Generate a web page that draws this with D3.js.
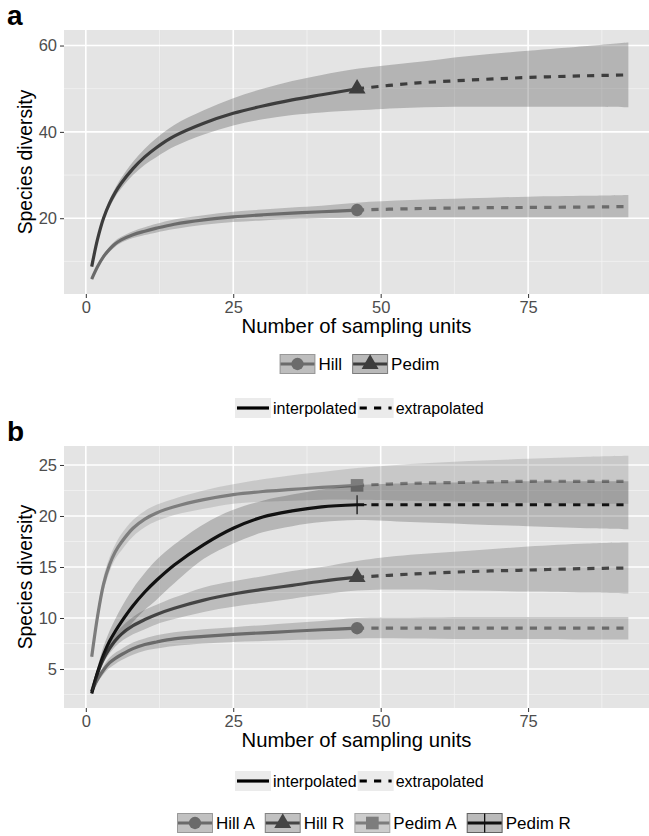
<!DOCTYPE html>
<html>
<head>
<meta charset="utf-8">
<script src="https://cdn.jsdelivr.net/npm/d3@7"></script>
<style>
  body { margin: 0; background: #fff; }
  text { font-family: "Liberation Sans", Arial, sans-serif; }
</style>
</head>
<body>
<div id="chart"></div>
<script>
(function(d3) {
  'use strict';

  // sampling units where the curves were evaluated (46 = observed sample)
  var units = [1, 2, 3, 4, 5, 6, 8, 10, 12, 15, 20, 25, 30, 35, 40, 46, 55, 65, 75, 85, 92];
  var observedUnits = 46;
  var xTicks = [0, 25, 50, 75];

  // panel a
  var yTicksA = [20, 40, 60];
  var hillEst = [5.9, 8.8, 11.1, 12.8, 14.1, 15.0, 16.2, 17.0, 17.7, 18.6, 19.6, 20.3, 20.8, 21.2, 21.5, 21.9, 22.2, 22.4, 22.5, 22.6, 22.7];
  var hillLo  = [5.6, 8.4, 10.6, 12.2, 13.4, 14.3, 15.4, 16.1, 16.7, 17.5, 18.5, 19.1, 19.5, 19.8, 20.0, 20.1, 20.2, 20.2, 20.2, 20.2, 20.2];
  var hillHi  = [6.2, 9.2, 11.6, 13.4, 14.8, 15.7, 17.0, 17.9, 18.7, 19.7, 20.7, 21.5, 22.0, 22.5, 22.9, 23.6, 24.2, 24.6, 25.0, 25.2, 25.4];
  var pedimEst = [8.8, 15.2, 20.0, 23.4, 26.0, 28.1, 31.5, 34.2, 36.4, 39.0, 42.0, 44.3, 46.0, 47.4, 48.6, 50.0, 51.2, 52.0, 52.6, 53.0, 53.2];
  var pedimLo  = [8.5, 14.7, 19.3, 22.5, 25.0, 26.9, 30.0, 32.4, 34.2, 36.6, 39.4, 41.5, 42.9, 43.9, 44.5, 45.0, 45.6, 45.8, 45.8, 45.8, 45.7];
  var pedimHi  = [9.1, 15.7, 20.7, 24.3, 27.0, 29.3, 33.1, 36.1, 38.6, 41.6, 45.0, 47.8, 50.0, 51.8, 53.2, 54.6, 56.0, 57.6, 58.8, 59.9, 60.7];

  // panel b
  var yTicksB = [5, 10, 15, 20, 25];
  var hillAEst = [2.8, 4.0, 4.9, 5.6, 6.05, 6.4, 7.0, 7.4, 7.65, 7.95, 8.2, 8.4, 8.55, 8.7, 8.85, 9.0, 9.0, 9.0, 9.0, 9.0, 9.0];
  var hillALo  = [2.6, 3.7, 4.5, 5.1, 5.5, 5.85, 6.4, 6.8, 7.0, 7.25, 7.5, 7.65, 7.75, 7.85, 7.9, 8.0, 8.0, 7.95, 7.95, 7.9, 7.9];
  var hillAHi  = [3.0, 4.3, 5.3, 6.1, 6.6, 6.95, 7.6, 8.0, 8.3, 8.6, 8.9, 9.1, 9.3, 9.5, 9.7, 10.0, 10.05, 10.1, 10.1, 10.1, 10.1];
  var hillREst = [2.8, 4.6, 6.0, 7.0, 7.8, 8.4, 9.25, 9.85, 10.35, 10.95, 11.75, 12.35, 12.8, 13.2, 13.6, 14.0, 14.3, 14.55, 14.7, 14.85, 14.9];
  var hillRLo  = [2.6, 4.3, 5.6, 6.5, 7.2, 7.7, 8.4, 8.9, 9.4, 9.9, 10.6, 11.1, 11.5, 11.9, 12.3, 12.7, 12.8, 12.7, 12.6, 12.5, 12.4];
  var hillRHi  = [3.0, 4.9, 6.4, 7.5, 8.4, 9.1, 10.1, 10.8, 11.3, 12.0, 13.0, 13.6, 14.1, 14.6, 15.0, 15.6, 16.2, 16.6, 17.0, 17.3, 17.4];
  var pedimAEst = [6.2, 10.2, 13.3, 15.2, 16.5, 17.4, 18.8, 19.7, 20.3, 20.9, 21.6, 22.1, 22.4, 22.6, 22.8, 23.0, 23.2, 23.3, 23.4, 23.4, 23.4];
  var pedimALo  = [5.9, 9.6, 12.6, 14.5, 15.8, 16.6, 18.0, 18.9, 19.5, 20.1, 20.7, 21.2, 21.4, 21.5, 21.6, 21.6, 21.5, 21.4, 21.3, 21.2, 21.2];
  var pedimAHi  = [6.5, 10.8, 14.0, 15.9, 17.2, 18.2, 19.6, 20.5, 21.1, 21.7, 22.5, 23.1, 23.6, 24.0, 24.3, 24.7, 25.1, 25.4, 25.6, 25.8, 25.9];
  var pedimREst = [2.6, 4.7, 6.4, 7.7, 8.7, 9.6, 11.2, 12.55, 13.7, 15.2, 17.2, 18.8, 19.9, 20.5, 20.9, 21.1, 21.1, 21.1, 21.1, 21.1, 21.1];
  var pedimRLo  = [2.4, 4.2, 5.7, 6.7, 7.5, 8.2, 9.6, 10.8, 11.8, 13.4, 15.8, 17.3, 18.4, 19.0, 19.4, 19.6, 19.4, 19.2, 19.0, 18.8, 18.7];
  var pedimRHi  = [2.8, 5.2, 7.2, 8.7, 9.9, 11.0, 12.9, 14.4, 15.7, 17.2, 19.2, 20.6, 21.5, 22.1, 22.6, 23.0, 23.2, 23.3, 23.4, 23.4, 23.4];

  var lineTypes = ['interpolated', 'extrapolated'];

  //Sizes
  var width = 649, height = 836;
  var panelLeft = 64, panelRight = 649;
  var bgColor = '#e4e4e4';
  var dash = '7.2,7.2';

  var svg = d3.select('#chart').append('svg')
    .attr('width', width)
    .attr('height', height)
    .style('background', '#fff');

  function series(name, est, lo, hi, color, shape, fillOpacity) {
    return {
      name: name, color: color, shape: shape, fillOpacity: fillOpacity,
      rows: units.map(function(u, i) { return {x: u, est: est[i], lo: lo[i], hi: hi[i]}; })
    };
  }

  function markerPath(shape) {
    if (shape === 'circle') return d3.symbol(d3.symbolCircle, 120)();
    if (shape === 'triangle') return d3.symbol(d3.symbolTriangle, 125)();
    if (shape === 'square') return d3.symbol(d3.symbolSquare, 160)();
    return 'M0,-9.5V9.5M-9.5,0H9.5'; // plus
  }

  function drawMarker(g, s, px, py) {
    var p = g.append('path')
      .attr('transform', 'translate(' + px + ',' + py + ')')
      .attr('d', markerPath(s.shape));
    if (s.shape === 'plus') {
      p.attr('fill', 'none').attr('stroke', s.color).attr('stroke-width', 1.3);
    } else {
      p.attr('fill', s.color);
    }
  }

  function drawPanel(cfg) {
    var x = d3.scaleLinear().domain([-3.7, 95.5]).range([panelLeft, panelRight]);
    var y = d3.scaleLinear().domain(cfg.yDomain).range([cfg.bottom, cfg.top]);
    var g = svg.append('g');

    g.append('rect')
      .attr('x', panelLeft).attr('y', cfg.top)
      .attr('width', panelRight - panelLeft).attr('height', cfg.bottom - cfg.top)
      .attr('fill', bgColor);

    // minor grid half way between major ticks
    var xStep = xTicks[1] - xTicks[0];
    var yStep = cfg.yTicks[1] - cfg.yTicks[0];
    var xMinor = d3.range(xTicks[0] - xStep / 2, 100, xStep).filter(function(v) { return x(v) > panelLeft && x(v) < panelRight; });
    var yMinor = d3.range(cfg.yTicks[0] - yStep / 2, cfg.yDomain[1], yStep).filter(function(v) { return v > cfg.yDomain[0]; });

    g.selectAll('.vminor').data(xMinor).enter().append('line')
      .attr('x1', x).attr('x2', x).attr('y1', cfg.top).attr('y2', cfg.bottom)
      .attr('stroke', '#f3f3f3').attr('stroke-width', 0.8);
    g.selectAll('.hminor').data(yMinor).enter().append('line')
      .attr('x1', panelLeft).attr('x2', panelRight).attr('y1', y).attr('y2', y)
      .attr('stroke', '#f3f3f3').attr('stroke-width', 0.8);
    g.selectAll('.vmajor').data(xTicks).enter().append('line')
      .attr('x1', x).attr('x2', x).attr('y1', cfg.top).attr('y2', cfg.bottom)
      .attr('stroke', '#fff').attr('stroke-width', 1.6);
    g.selectAll('.hmajor').data(cfg.yTicks).enter().append('line')
      .attr('x1', panelLeft).attr('x2', panelRight).attr('y1', y).attr('y2', y)
      .attr('stroke', '#fff').attr('stroke-width', 1.6);

    var curve = d3.curveCatmullRom.alpha(0.5);
    var line = d3.line().curve(curve)
      .x(function(d) { return x(d.x); })
      .y(function(d) { return y(d.est); });
    var area = d3.area().curve(curve)
      .x(function(d) { return x(d.x); })
      .y0(function(d) { return y(d.lo); })
      .y1(function(d) { return y(d.hi); });

    // points, lines, then ribbons on top (as ggiNEXT does)
    cfg.series.forEach(function(s) {
      var obs = s.rows.filter(function(d) { return d.x === observedUnits; })[0];
      drawMarker(g, s, x(obs.x), y(obs.est));
    });
    cfg.series.forEach(function(s) {
      g.append('path')
        .datum(s.rows.filter(function(d) { return d.x <= observedUnits; }))
        .attr('d', line).attr('fill', 'none')
        .attr('stroke', s.color).attr('stroke-width', 3.2);
      g.append('path')
        .datum(s.rows.filter(function(d) { return d.x >= observedUnits; }))
        .attr('d', line).attr('fill', 'none')
        .attr('stroke', s.color).attr('stroke-width', 3.2)
        .attr('stroke-dasharray', dash);
    });
    cfg.series.forEach(function(s) {
      g.append('path').datum(s.rows)
        .attr('d', area)
        .attr('fill', s.color).attr('fill-opacity', s.fillOpacity);
    });

    // axes
    var yAxis = g.append('g')
      .attr('transform', 'translate(' + panelLeft + ',0)')
      .call(d3.axisLeft(y).tickValues(cfg.yTicks).tickSize(4).tickPadding(3));
    var xAxis = g.append('g')
      .attr('transform', 'translate(0,' + cfg.bottom + ')')
      .call(d3.axisBottom(x).tickValues(xTicks).tickSize(4).tickPadding(3));
    [xAxis, yAxis].forEach(function(ax) {
      ax.select('.domain').remove();
      ax.selectAll('line').attr('stroke', '#333').attr('stroke-width', 1);
      ax.selectAll('text')
        .style('font-family', '"Liberation Sans", Arial, sans-serif')
        .attr('font-size', 16.5).attr('fill', '#4d4d4d');
    });

    // titles
    svg.append('text')
      .attr('x', (panelLeft + panelRight) / 2).attr('y', cfg.bottom + 39)
      .attr('text-anchor', 'middle').attr('font-size', 20.3)
      .text('Number of sampling units');
    svg.append('text')
      .attr('transform', 'translate(31.5,' + (cfg.top + cfg.bottom) / 2 + ') rotate(-90)')
      .attr('text-anchor', 'middle').attr('font-size', 19.3)
      .text('Species diversity');
    svg.append('text')
      .attr('x', 7).attr('y', cfg.top - 5)
      .attr('font-size', 28).attr('font-weight', 'bold')
      .text(cfg.label);
  }

  function groupLegend(list, startX, cy) {
    var g = svg.append('g');
    var cx = startX;
    list.forEach(function(s) {
      g.append('rect')
        .attr('x', cx + 0.5).attr('y', cy - 9.5)
        .attr('width', 35).attr('height', 19)
        .attr('fill', '#ebebeb');
      g.append('rect')
        .attr('x', cx + 0.5).attr('y', cy - 9.5)
        .attr('width', 35).attr('height', 19)
        .attr('fill', s.color).attr('fill-opacity', s.fillOpacity)
        .attr('stroke', s.color).attr('stroke-opacity', 0.6).attr('stroke-width', 1);
      g.append('line')
        .attr('x1', cx + 1).attr('x2', cx + 35).attr('y1', cy).attr('y2', cy)
        .attr('stroke', s.color).attr('stroke-width', 3.2);
      drawMarker(g, s, cx + 18, cy);
      var t = g.append('text')
        .attr('x', cx + 39).attr('y', cy + 6)
        .attr('font-size', 17).text(s.name);
      cx += 39 + t.node().getComputedTextLength() + 10;
    });
  }

  function lineTypeLegend(startX, cy) {
    var g = svg.append('g');
    var cx = startX;
    lineTypes.forEach(function(lt) {
      g.append('rect')
        .attr('x', cx).attr('y', cy - 10)
        .attr('width', 36).attr('height', 20)
        .attr('fill', '#ebebeb');
      g.append('line')
        .attr('x1', cx + 2).attr('x2', cx + 34).attr('y1', cy).attr('y2', cy)
        .attr('stroke', '#000').attr('stroke-width', 3.2)
        .attr('stroke-dasharray', lt === 'extrapolated' ? dash : null);
      var t = g.append('text')
        .attr('x', cx + 38).attr('y', cy + 5.5)
        .attr('font-size', 16).text(lt);
      cx += 38 + t.node().getComputedTextLength() + 1;
    });
  }

  var seriesA = [
    series('Hill', hillEst, hillLo, hillHi, '#6b6b6b', 'circle', 0.36),
    series('Pedim', pedimEst, pedimLo, pedimHi, '#3d3d3d', 'triangle', 0.29)
  ];
  var seriesB = [
    series('Hill A', hillAEst, hillALo, hillAHi, '#6a6a6a', 'circle', 0.32),
    series('Hill R', hillREst, hillRLo, hillRHi, '#454545', 'triangle', 0.25),
    series('Pedim A', pedimAEst, pedimALo, pedimAHi, '#7d7d7d', 'square', 0.27),
    series('Pedim R', pedimREst, pedimRLo, pedimRHi, '#111111', 'plus', 0.22)
  ];

  drawPanel({label: 'a', top: 30, bottom: 294, yDomain: [2.45, 63.6], yTicks: yTicksA, series: seriesA});
  drawPanel({label: 'b', top: 446, bottom: 708, yDomain: [1.18, 26.86], yTicks: yTicksB, series: seriesB});

  groupLegend(seriesA, 279.5, 364);
  lineTypeLegend(235, 408);
  lineTypeLegend(235, 781);
  groupLegend(seriesB, 177, 823);
})(window.d3);
</script>
</body>
</html>
